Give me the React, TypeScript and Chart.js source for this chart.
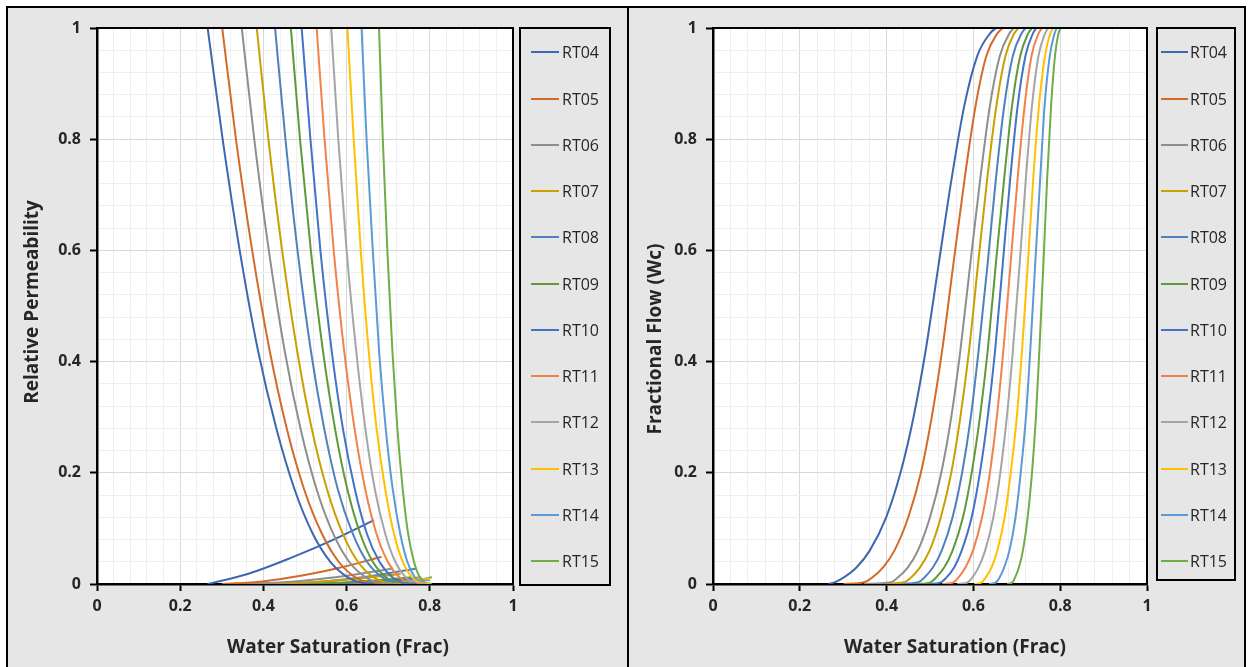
import React, { useEffect, useRef } from 'react';
import { Chart, registerables } from 'chart.js';

Chart.register(...registerables);

// ---------- data ----------
const RT_NAMES = ['RT04', 'RT05', 'RT06', 'RT07', 'RT08', 'RT09', 'RT10', 'RT11', 'RT12', 'RT13', 'RT14', 'RT15'];
const RT_COLORS = ['#3F67B0', '#D46A2A', '#8E8E8E', '#C9A000', '#4F81BD', '#5E9A3A', '#4472C4', '#F0824A', '#A5A5A5', '#FFC000', '#5B9BD5', '#70AD47'];
const TICK_LABELS = ['0', '0.2', '0.4', '0.6', '0.8', '1'];

// oil relative permeability: water saturation at which each curve reaches these kro levels
const KRO_LEVELS = [1, 0.8, 0.6, 0.42, 0.28, 0.17, 0.09, 0.04, 0.012, 0.002, 0];
const KRO_SW = [
  [0.266, 0.302, 0.343, 0.387, 0.431, 0.475, 0.519, 0.561, 0.603, 0.636, 0.666],
  [0.301, 0.334, 0.373, 0.415, 0.456, 0.498, 0.541, 0.581, 0.621, 0.654, 0.684],
  [0.348, 0.378, 0.413, 0.451, 0.489, 0.528, 0.568, 0.606, 0.646, 0.679, 0.712],
  [0.384, 0.412, 0.445, 0.481, 0.516, 0.553, 0.591, 0.627, 0.665, 0.697, 0.730],
  [0.428, 0.453, 0.482, 0.514, 0.546, 0.579, 0.615, 0.649, 0.686, 0.718, 0.755],
  [0.466, 0.488, 0.514, 0.543, 0.572, 0.602, 0.633, 0.663, 0.695, 0.724, 0.755],
  [0.492, 0.513, 0.537, 0.564, 0.591, 0.620, 0.649, 0.679, 0.710, 0.737, 0.768],
  [0.528, 0.547, 0.569, 0.594, 0.619, 0.645, 0.672, 0.699, 0.727, 0.752, 0.780],
  [0.563, 0.580, 0.600, 0.623, 0.645, 0.668, 0.693, 0.717, 0.742, 0.764, 0.790],
  [0.602, 0.617, 0.634, 0.653, 0.672, 0.693, 0.714, 0.735, 0.757, 0.777, 0.800],
  [0.636, 0.648, 0.663, 0.678, 0.694, 0.711, 0.729, 0.746, 0.764, 0.781, 0.800],
  [0.678, 0.687, 0.698, 0.710, 0.722, 0.735, 0.748, 0.762, 0.776, 0.789, 0.805],
];

// water relative permeability
const KRW_SW = [
  [0.266, 0.366, 0.466, 0.566, 0.666],
  [0.301, 0.397, 0.493, 0.588, 0.684],
  [0.348, 0.439, 0.530, 0.621, 0.712],
  [0.384, 0.471, 0.557, 0.644, 0.730],
  [0.428, 0.513, 0.598, 0.683, 0.768],
  [0.466, 0.538, 0.611, 0.683, 0.755],
  [0.492, 0.561, 0.630, 0.699, 0.768],
  [0.528, 0.591, 0.654, 0.717, 0.780],
  [0.563, 0.620, 0.677, 0.733, 0.790],
  [0.602, 0.652, 0.701, 0.751, 0.800],
  [0.636, 0.677, 0.718, 0.759, 0.800],
  [0.678, 0.710, 0.742, 0.773, 0.805],
];
const KRW_VALUES = [
  [0, 0.019, 0.047, 0.079, 0.115],
  [0, 0.0047, 0.0151, 0.030, 0.049],
  [0, 0.0027, 0.0086, 0.0172, 0.028],
  [0, 0.0017, 0.0055, 0.011, 0.018],
  [0, 0.0027, 0.0086, 0.0172, 0.028],
  [0, 0.0011, 0.0037, 0.0074, 0.012],
  [0, 0.001, 0.0031, 0.0061, 0.010],
  [0, 0.0011, 0.0037, 0.0074, 0.012],
  [0, 0.0008, 0.0025, 0.0049, 0.008],
  [0, 0.001, 0.0031, 0.0061, 0.010],
  [0, 0.0007, 0.0022, 0.0043, 0.007],
  [0, 0.0011, 0.0037, 0.0074, 0.012],
];

// fractional flow: water saturation at which each curve reaches these fw levels
const FW_LEVELS = [0, 0.003, 0.01, 0.03, 0.06, 0.12, 0.2, 0.3, 0.42, 0.57, 0.73, 0.86, 0.95, 0.99, 1];
const FW_SW = [
  [0.266, 0.280, 0.298, 0.331, 0.361, 0.399, 0.432, 0.462, 0.490, 0.519, 0.550, 0.579, 0.609, 0.638, 0.652],
  [0.301, 0.348, 0.364, 0.392, 0.418, 0.450, 0.479, 0.504, 0.528, 0.553, 0.580, 0.605, 0.630, 0.655, 0.667],
  [0.348, 0.410, 0.423, 0.449, 0.472, 0.500, 0.526, 0.549, 0.570, 0.592, 0.616, 0.638, 0.661, 0.683, 0.693],
  [0.384, 0.441, 0.454, 0.477, 0.499, 0.525, 0.549, 0.570, 0.590, 0.610, 0.632, 0.653, 0.674, 0.694, 0.704],
  [0.428, 0.473, 0.485, 0.507, 0.527, 0.552, 0.574, 0.594, 0.612, 0.632, 0.652, 0.671, 0.691, 0.711, 0.720],
  [0.466, 0.501, 0.512, 0.533, 0.552, 0.576, 0.596, 0.615, 0.633, 0.651, 0.671, 0.689, 0.708, 0.726, 0.735],
  [0.492, 0.525, 0.536, 0.556, 0.573, 0.596, 0.615, 0.633, 0.650, 0.667, 0.685, 0.702, 0.720, 0.737, 0.745],
  [0.528, 0.554, 0.564, 0.582, 0.599, 0.620, 0.638, 0.654, 0.669, 0.685, 0.702, 0.718, 0.734, 0.750, 0.758],
  [0.563, 0.587, 0.596, 0.612, 0.627, 0.646, 0.662, 0.677, 0.691, 0.706, 0.721, 0.735, 0.750, 0.765, 0.772],
  [0.602, 0.619, 0.627, 0.642, 0.655, 0.672, 0.686, 0.700, 0.712, 0.725, 0.738, 0.751, 0.765, 0.777, 0.784],
  [0.636, 0.652, 0.659, 0.671, 0.683, 0.697, 0.709, 0.721, 0.731, 0.742, 0.754, 0.764, 0.776, 0.787, 0.792],
  [0.678, 0.690, 0.695, 0.705, 0.714, 0.725, 0.735, 0.744, 0.752, 0.761, 0.770, 0.779, 0.788, 0.796, 0.801],
];

// ---------- styling ----------
const FONT = "'Open Sans', 'Noto Sans', sans-serif";
const TEXT_COLOR = '#262626';
const PANEL_BG = '#E7E6E6';

const isMajor = (v: number) => Math.abs(v / 0.2 - Math.round(v / 0.2)) < 1e-6;

function makeAxis(axis: 'x' | 'y', size: number, pad: number) {
  return {
    type: 'linear' as const,
    min: 0,
    max: 1,
    afterFit: (scale: any) => {
      if (axis === 'x') scale.height = size;
      else scale.width = size;
    },
    ticks: {
      stepSize: 0.04,
      autoSkip: false,
      maxRotation: 0,
      padding: pad,
      color: TEXT_COLOR,
      font: { family: FONT, size: 16, weight: 'bold' as const },
      callback: (v: any) => (isMajor(Number(v)) ? TICK_LABELS[Math.round(Number(v) / 0.2)] : ''),
    },
    grid: {
      color: (ctx: any) => (ctx.tick && isMajor(ctx.tick.value) ? '#D9D9D9' : '#EFEFEF'),
      lineWidth: 1,
      drawTicks: true,
      tickLength: 7,
      tickWidth: 2,
      tickColor: (ctx: any) => (ctx.tick && isMajor(ctx.tick.value) ? '#000000' : 'rgba(0,0,0,0)'),
    },
    border: { display: true, color: '#000000', width: 2.5 },
  };
}

function framePlugin(xTitle: string, yTitle: string, xt: number[], yt: number[]) {
  return {
    id: 'frame',
    beforeDraw(chart: any) {
      const { ctx, chartArea: a } = chart;
      ctx.save();
      ctx.fillStyle = '#FFFFFF';
      ctx.fillRect(a.left, a.top, a.right - a.left, a.bottom - a.top);
      ctx.restore();
    },
    afterDraw(chart: any) {
      const { ctx, chartArea: a } = chart;
      ctx.save();
      ctx.strokeStyle = '#000000';
      ctx.lineWidth = 2;
      ctx.beginPath();
      ctx.moveTo(a.left, a.top);
      ctx.lineTo(a.right, a.top);
      ctx.lineTo(a.right, a.bottom);
      ctx.stroke();
      ctx.fillStyle = TEXT_COLOR;
      ctx.font = `bold 19px ${FONT}`;
      ctx.textAlign = 'center';
      ctx.textBaseline = 'middle';
      ctx.fillText(xTitle, xt[0], xt[1]);
      ctx.translate(yt[0], yt[1]);
      ctx.rotate(-Math.PI / 2);
      ctx.fillText(yTitle, 0, 0);
      ctx.restore();
    },
  };
}

type PanelProps = {
  width: number;
  height: number;
  rightPad: number;
  yAxisWidth: number;
  datasets: any[];
  xTitle: string;
  yTitle: string;
  xt: number[];
  yt: number[];
};

function ChartCanvas(p: PanelProps) {
  const ref = useRef<HTMLCanvasElement | null>(null);
  useEffect(() => {
    if (!ref.current) return;
    const chart = new Chart(ref.current, {
      type: 'line',
      data: { datasets: p.datasets },
      options: {
        animation: false,
        responsive: false,
        devicePixelRatio: 1,
        events: [],
        layout: { padding: { left: 0, top: 20, right: p.rightPad, bottom: 0 } },
        plugins: { legend: { display: false }, tooltip: { enabled: false } },
        elements: { point: { radius: 0 }, line: { borderWidth: 2, cubicInterpolationMode: 'monotone' } },
        scales: {
          x: makeAxis('x', 83, 6),
          y: makeAxis('y', p.yAxisWidth, 9),
        },
      } as any,
      plugins: [framePlugin(p.xTitle, p.yTitle, p.xt, p.yt)],
    });
    return () => chart.destroy();
  }, []);
  return <canvas ref={ref} width={p.width} height={p.height} style={{ display: 'block', width: p.width, height: p.height }} />;
}

function Legend({ left, top, width, height, lineX, lineW, textX }: any) {
  return (
    <div
      style={{
        position: 'absolute',
        left,
        top,
        width,
        height,
        boxSizing: 'border-box',
        border: '2px solid #000',
      }}
    >
      {RT_NAMES.map((name, i) => {
        const cy = 52.3 + 46.25 * i - top;
        return (
          <React.Fragment key={name}>
            <div
              style={{
                position: 'absolute',
                left: lineX - left - 2,
                top: cy - 1 - 2,
                width: lineW,
                height: 2,
                background: RT_COLORS[i],
              }}
            />
            <div
              style={{
                position: 'absolute',
                left: textX - left - 2,
                top: cy - 10 - 2,
                height: 20,
                lineHeight: '20px',
                fontFamily: FONT,
                fontSize: 16,
                color: TEXT_COLOR,
                whiteSpace: 'nowrap',
              }}
            >
              {name}
            </div>
          </React.Fragment>
        );
      })}
    </div>
  );
}

export default function App() {
  const kroSets = RT_NAMES.map((name, i) => ({
    label: name,
    data: KRO_SW[i].map((sw, j) => ({ x: sw, y: KRO_LEVELS[j] })),
    borderColor: RT_COLORS[i],
    backgroundColor: RT_COLORS[i],
    fill: false,
  }));
  const krwSets = RT_NAMES.map((name, i) => ({
    label: name + ' krw',
    data: KRW_SW[i].map((sw, j) => ({ x: sw, y: KRW_VALUES[i][j] })),
    borderColor: RT_COLORS[i],
    backgroundColor: RT_COLORS[i],
    fill: false,
  }));
  const fwSets = RT_NAMES.map((name, i) => ({
    label: name,
    data: FW_SW[i].map((sw, j) => ({ x: sw, y: FW_LEVELS[j] })),
    borderColor: RT_COLORS[i],
    backgroundColor: RT_COLORS[i],
    fill: false,
  }));

  return (
    <div style={{ position: 'absolute', left: 0, top: 0, width: 1251, height: 667, overflow: 'hidden', background: '#FFFFFF' }}>
      {/* left panel */}
      <div
        style={{
          position: 'absolute',
          left: 6,
          top: 6,
          width: 623,
          height: 661,
          boxSizing: 'border-box',
          borderLeft: '2px solid #000',
          borderTop: '2px solid #000',
          borderRight: '2px solid #000',
          background: PANEL_BG,
        }}
      >
        <ChartCanvas
          width={619}
          height={659}
          rightPad={114}
          yAxisWidth={89}
          datasets={[...kroSets, ...krwSets]}
          xTitle="Water Saturation (Frac)"
          yTitle="Relative Permeability"
          xt={[330, 640]}
          yt={[25, 294]}
        />
      </div>
      {/* right panel */}
      <div
        style={{
          position: 'absolute',
          left: 629,
          top: 6,
          width: 617,
          height: 661,
          boxSizing: 'border-box',
          borderTop: '2px solid #000',
          borderRight: '2px solid #000',
          background: PANEL_BG,
        }}
      >
        <ChartCanvas
          width={615}
          height={659}
          rightPad={97}
          yAxisWidth={84}
          datasets={fwSets}
          xTitle="Water Saturation (Frac)"
          yTitle="Fractional Flow (Wc)"
          xt={[326, 640]}
          yt={[27, 331]}
        />
      </div>
      <Legend left={519} top={27} width={92} height={559} lineX={531} lineW={28} textX={562} />
      <Legend left={1156} top={27} width={80} height={554} lineX={1161} lineW={27} textX={1190} />
    </div>
  );
}
